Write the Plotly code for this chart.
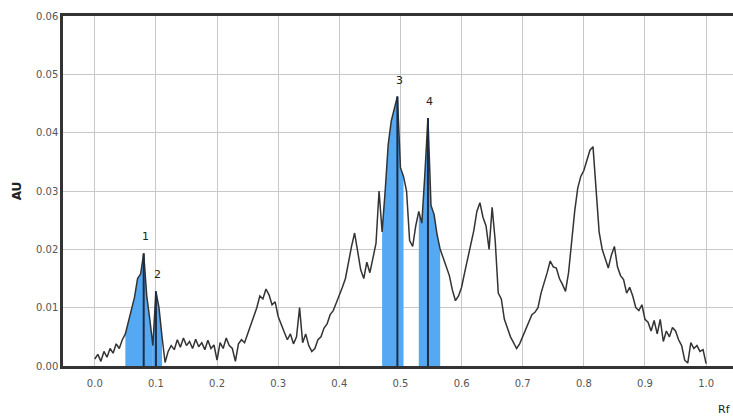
import plotly.graph_objects as go

# ---- data ----
rf = [
    0.000, 0.005, 0.010, 0.015, 0.020, 0.025, 0.030, 0.035, 0.040, 0.045,
    0.050, 0.055, 0.060, 0.065, 0.070, 0.075, 0.080, 0.085, 0.090, 0.095,
    0.100, 0.105, 0.110, 0.115, 0.120, 0.125, 0.130, 0.135, 0.140, 0.145,
    0.150, 0.155, 0.160, 0.165, 0.170, 0.175, 0.180, 0.185, 0.190, 0.195,
    0.200, 0.205, 0.210, 0.215, 0.220, 0.225, 0.230, 0.235, 0.240, 0.245,
    0.250, 0.255, 0.260, 0.265, 0.270, 0.275, 0.280, 0.285, 0.290, 0.295,
    0.300, 0.305, 0.310, 0.315, 0.320, 0.325, 0.330, 0.335, 0.340, 0.345,
    0.350, 0.355, 0.360, 0.365, 0.370, 0.375, 0.380, 0.385, 0.390, 0.395,
    0.400, 0.405, 0.410, 0.415, 0.420, 0.425, 0.430, 0.435, 0.440, 0.445,
    0.450, 0.455, 0.460, 0.465, 0.470, 0.475, 0.480, 0.485, 0.490, 0.495,
    0.500, 0.505, 0.510, 0.515, 0.520, 0.525, 0.530, 0.535, 0.540, 0.545,
    0.550, 0.555, 0.560, 0.565, 0.570, 0.575, 0.580, 0.585, 0.590, 0.595,
    0.600, 0.605, 0.610, 0.615, 0.620, 0.625, 0.630, 0.635, 0.640, 0.645,
    0.650, 0.655, 0.660, 0.665, 0.670, 0.675, 0.680, 0.685, 0.690, 0.695,
    0.700, 0.705, 0.710, 0.715, 0.720, 0.725, 0.730, 0.735, 0.740, 0.745,
    0.750, 0.755, 0.760, 0.765, 0.770, 0.775, 0.780, 0.785, 0.790, 0.795,
    0.800, 0.805, 0.810, 0.815, 0.820, 0.825, 0.830, 0.835, 0.840, 0.845,
    0.850, 0.855, 0.860, 0.865, 0.870, 0.875, 0.880, 0.885, 0.890, 0.895,
    0.900, 0.905, 0.910, 0.915, 0.920, 0.925, 0.930, 0.935, 0.940, 0.945,
    0.950, 0.955, 0.960, 0.965, 0.970, 0.975, 0.980, 0.985, 0.990, 0.995,
    1.000,
]
au = [
    0.0012, 0.0020, 0.0008, 0.0025, 0.0015, 0.0030, 0.0022, 0.0038, 0.0030, 0.0045,
    0.0055, 0.0075, 0.0100, 0.0118, 0.0150, 0.0158, 0.0193, 0.0120, 0.0080, 0.0035,
    0.0128, 0.0100, 0.0050, 0.0006, 0.0025, 0.0035, 0.0028, 0.0045, 0.0032, 0.0048,
    0.0035, 0.0042, 0.0030, 0.0046, 0.0033, 0.0040, 0.0028, 0.0044, 0.0030, 0.0036,
    0.0010, 0.0040, 0.0030, 0.0048, 0.0035, 0.0030, 0.0008, 0.0038, 0.0045, 0.0040,
    0.0055, 0.0070, 0.0085, 0.0100, 0.0120, 0.0115, 0.0132, 0.0122, 0.0105, 0.0110,
    0.0085, 0.0070, 0.0058, 0.0045, 0.0055, 0.0038, 0.0050, 0.0100, 0.0040, 0.0055,
    0.0035, 0.0025, 0.0030, 0.0045, 0.0050, 0.0065, 0.0072, 0.0088, 0.0095, 0.0108,
    0.0120, 0.0135, 0.0150, 0.0180, 0.0205, 0.0228, 0.0200, 0.0165, 0.0150, 0.0178,
    0.0160, 0.0185, 0.0210, 0.0300, 0.0230, 0.0300, 0.0380, 0.0420, 0.0440, 0.0462,
    0.0340, 0.0325, 0.0300, 0.0215, 0.0205, 0.0240, 0.0265, 0.0245, 0.0330, 0.0425,
    0.0275, 0.0260, 0.0225, 0.0200, 0.0185, 0.0170, 0.0155, 0.0130, 0.0112, 0.0120,
    0.0135, 0.0160, 0.0185, 0.0205, 0.0232, 0.0265, 0.0280, 0.0255, 0.0240, 0.0200,
    0.0272, 0.0215, 0.0125, 0.0115, 0.0080, 0.0065, 0.0050, 0.0040, 0.0030, 0.0038,
    0.0050, 0.0065, 0.0075, 0.0088, 0.0092, 0.0100, 0.0125, 0.0145, 0.0160, 0.0180,
    0.0170, 0.0168, 0.0150, 0.0140, 0.0128, 0.0160, 0.0215, 0.0265, 0.0305, 0.0325,
    0.0335, 0.0355, 0.0370, 0.0376, 0.0310, 0.0230, 0.0200, 0.0185, 0.0168, 0.0190,
    0.0205, 0.0170, 0.0155, 0.0148, 0.0125, 0.0135, 0.0120, 0.0100, 0.0095, 0.0105,
    0.0080, 0.0075, 0.0060, 0.0078, 0.0055, 0.0080, 0.0042, 0.0060, 0.0050, 0.0066,
    0.0060, 0.0045, 0.0035, 0.0010, 0.0005, 0.0040, 0.0030, 0.0035, 0.0025, 0.0028,
    0.0004,
]

peak_labels = ["1", "2", "3", "4"]
peak_start = [0.050, 0.095, 0.470, 0.530]
peak_end = [0.095, 0.110, 0.505, 0.565]

x_ticks = [0.0, 0.1, 0.2, 0.3, 0.4, 0.5, 0.6, 0.7, 0.8, 0.9, 1.0]
y_ticks = [0.00, 0.01, 0.02, 0.03, 0.04, 0.05, 0.06]

FILL = "#55a8f2"
LINE = "#333333"
APEX = "#1c2c44"

fig = go.Figure()

# filled peak areas
apex_x, apex_y = [], []
for s, e in zip(peak_start, peak_end):
    xs = [x for x in rf if s - 1e-9 <= x <= e + 1e-9]
    ys = [au[rf.index(x)] for x in xs]
    fig.add_trace(go.Scatter(x=xs, y=ys, mode="lines", fill="tozeroy",
                             fillcolor=FILL, line=dict(width=0, color=FILL),
                             hoverinfo="skip", showlegend=False))
    i = ys.index(max(ys))
    apex_x.append(xs[i])
    apex_y.append(ys[i])

# main trace
fig.add_trace(go.Scatter(x=rf, y=au, mode="lines",
                         line=dict(color=LINE, width=1.5),
                         showlegend=False))

# apex marker lines and labels
for lab, ax_, ay_ in zip(peak_labels, apex_x, apex_y):
    fig.add_trace(go.Scatter(x=[ax_, ax_], y=[0, ay_], mode="lines",
                             line=dict(color=APEX, width=2),
                             hoverinfo="skip", showlegend=False))
    fig.add_annotation(x=ax_, y=ay_, text=lab, showarrow=False,
                       yanchor="bottom", yshift=8, xshift=2,
                       font=dict(family="DejaVu Sans", size=11, color="#222"))

fig.add_annotation(xref="paper", yref="paper", x=1.0, y=-0.125,
                   xanchor="right", yanchor="middle", text="Rf", showarrow=False,
                   font=dict(family="DejaVu Sans", size=11, color="#222"))

fig.update_layout(
    width=733, height=417,
    margin=dict(l=63, r=0, t=16, b=51, autoexpand=False),
    paper_bgcolor="white", plot_bgcolor="white",
    font=dict(family="DejaVu Sans", size=10, color="#555"),
    xaxis=dict(range=[-0.052, 1.044], tickvals=x_ticks,
               ticktext=[f"{v:.1f}" for v in x_ticks],
               showgrid=True, gridcolor="#c8c8c8", gridwidth=1,
               showline=True, linecolor="#333", linewidth=2.5, mirror=True,
               zeroline=False, ticks="", ticklabelstandoff=6, automargin=False,
               tickfont=dict(size=10, color="#555")),
    yaxis=dict(range=[0, 0.06], tickvals=y_ticks,
               ticktext=[f"{v:.2f}" for v in y_ticks],
               showgrid=True, gridcolor="#c8c8c8", gridwidth=1,
               showline=True, linecolor="#333", linewidth=2.5, mirror=False,
               zeroline=False, ticks="", automargin=False,
               tickfont=dict(size=10, color="#555"),
               title=dict(text="AU", standoff=12,
                          font=dict(size=12, color="#222", weight="bold"))),
)

fig.write_html("out.html", config={"displayModeBar": False},
               post_script="document.body.style.margin='0';document.body.style.overflow='hidden';")
